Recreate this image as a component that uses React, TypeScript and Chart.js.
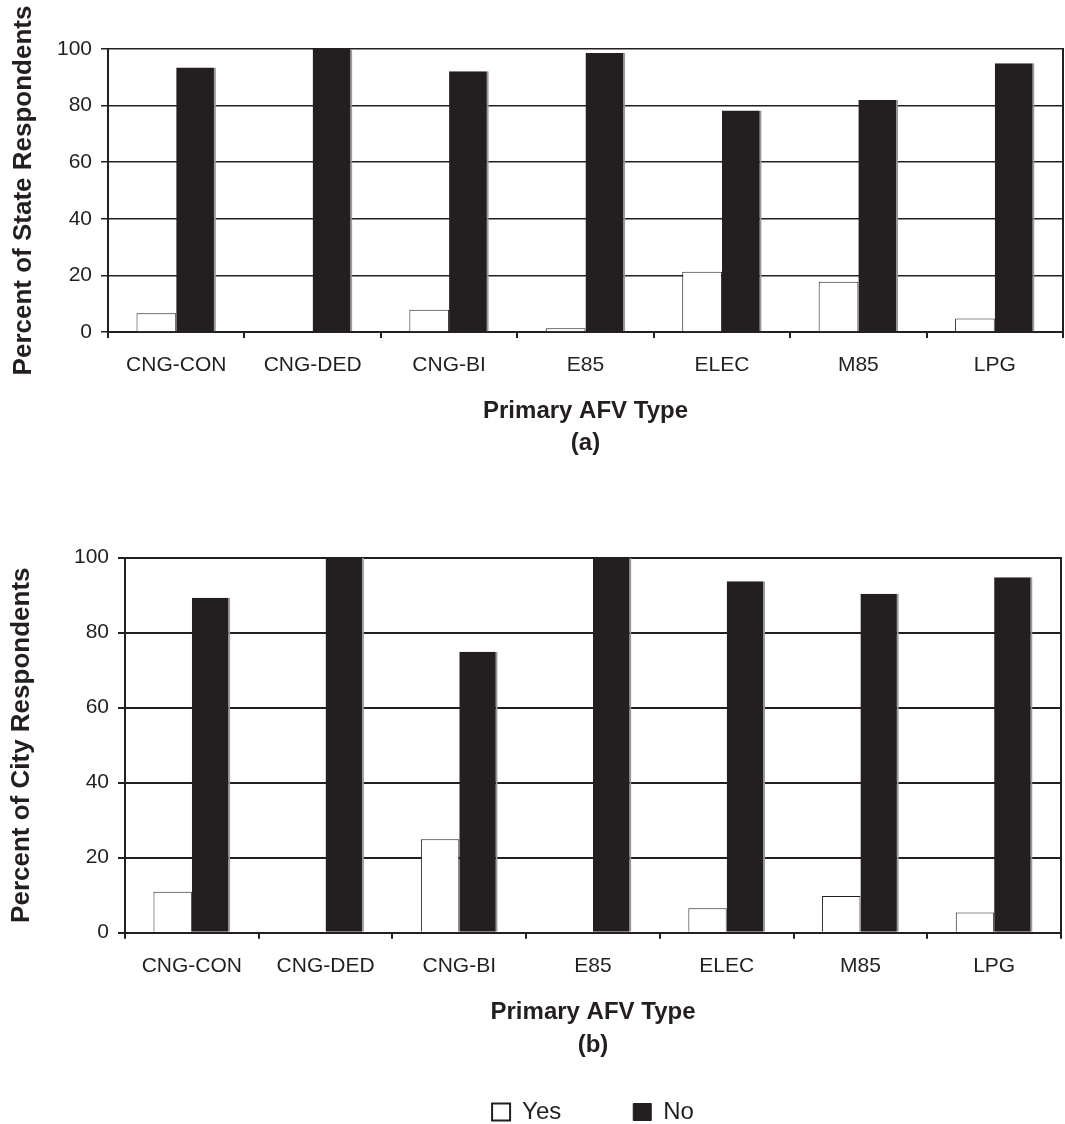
import React, { useEffect, useRef } from 'react';
import { Chart, registerables } from 'chart.js';

Chart.register(...registerables);

const categories = ['CNG-CON', 'CNG-DED', 'CNG-BI', 'E85', 'ELEC', 'M85', 'LPG'];
const seriesLabels = ['Yes', 'No'];
const stateYes = [6.6, 0, 7.9, 1.3, 21.3, 17.8, 4.8];
const stateNo = [93.5, 100, 92.1, 98.6, 78.3, 82.0, 95.0];
const cityYes = [10.9, 0, 24.9, 0, 6.5, 9.8, 5.4];
const cityNo = [89.3, 100, 74.9, 100, 93.7, 90.4, 94.8];
const xTitle = 'Primary AFV Type';

const INK = '#231f20';
const FONT = "'Liberation Sans', Arial, Helvetica, sans-serif";

type P = {
  yes: number[];
  no: number[];
  yTitle: string;
  sub: string;
  catPct: number;
  gridWidth: number;
  padTop: number;
  padRight: number;
  yWidth: number;
  xHeight: number;
  yTitlePad: number;
  xTitlePadBottom: number;
  legend: boolean;
};

function buildConfig(p: P): any {
  return {
    type: 'bar',
    data: {
      labels: categories,
      datasets: [
        {
          label: seriesLabels[0],
          data: p.yes,
          backgroundColor: '#ffffff',
          borderColor: INK,
          borderWidth: 1,
          categoryPercentage: p.catPct,
          barPercentage: 1,
        },
        {
          label: seriesLabels[1],
          data: p.no,
          backgroundColor: INK,
          borderColor: '#9b9b9b',
          borderWidth: { top: 0, left: 0, bottom: 0, right: 2 },
          categoryPercentage: p.catPct,
          barPercentage: 1,
        },
      ],
    },
    options: {
      responsive: false,
      animation: false,
      devicePixelRatio: 1,
      events: [],
      layout: { padding: { top: p.padTop, right: p.padRight, left: 0, bottom: 0 } },
      plugins: {
        tooltip: { enabled: false },
        title: { display: false },
        legend: p.legend
          ? {
              display: true,
              position: 'bottom',
              fullSize: false,
              align: 'center',
              labels: {
                boxWidth: 18,
                boxHeight: 17,
                padding: 72,
                color: INK,
                font: { size: 24, family: FONT },
                generateLabels: () =>
                  seriesLabels.map((t, i) => ({
                    text: t,
                    fillStyle: i === 0 ? '#ffffff' : INK,
                    strokeStyle: INK,
                    lineWidth: i === 0 ? 2 : 1,
                    hidden: false,
                    datasetIndex: i,
                    fontColor: INK,
                  })),
              },
            }
          : { display: false },
      },
      scales: {
        x: {
          grid: {
            offset: true,
            drawOnChartArea: false,
            drawTicks: true,
            tickLength: 6,
            color: INK,
            lineWidth: 2,
          },
          border: { display: true, color: INK, width: 2 },
          ticks: {
            font: { size: 21, family: FONT },
            color: INK,
            padding: 15,
            maxRotation: 0,
            autoSkip: false,
          },
          title: {
            display: true,
            text: [xTitle, p.sub],
            font: { size: 24, weight: 'bold', lineHeight: 1.35, family: FONT },
            color: INK,
            padding: { top: 4, bottom: p.xTitlePadBottom },
          },
          afterFit: (s: any) => {
            s.height = p.xHeight;
          },
        },
        y: {
          min: 0,
          max: 100,
          ticks: {
            stepSize: 20,
            font: { size: 21, family: FONT },
            color: INK,
            padding: 9,
          },
          grid: { color: INK, lineWidth: p.gridWidth, tickLength: 7, drawTicks: true },
          border: { display: true, color: INK, width: 2 },
          title: {
            display: true,
            text: p.yTitle,
            font: { size: 26, weight: 'bold', family: FONT },
            color: INK,
            padding: { top: p.yTitlePad, bottom: 4 },
          },
          afterFit: (s: any) => {
            s.width = p.yWidth;
          },
        },
        yr: {
          position: 'right',
          min: 0,
          max: 100,
          ticks: { display: false },
          grid: { display: false, drawTicks: false },
          border: { display: true, color: INK, width: 2 },
          afterFit: (s: any) => {
            s.width = 0;
          },
        },
      },
    },
  };
}

function BarPanel(props: { config: any; top: number; height: number }) {
  const ref = useRef<HTMLCanvasElement | null>(null);
  useEffect(() => {
    if (!ref.current) return;
    const chart = new Chart(ref.current, props.config);
    return () => chart.destroy();
  }, []);
  return (
    <canvas
      ref={ref}
      width={1065}
      height={props.height}
      style={{ position: 'absolute', left: 0, top: props.top, width: 1065, height: props.height, display: 'block' }}
    />
  );
}

const configA = buildConfig({
  yes: stateYes,
  no: stateNo,
  yTitle: 'Percent of State Respondents',
  sub: '(a)',
  catPct: 0.582,
  gridWidth: 1.5,
  padTop: 49,
  padRight: 2,
  yWidth: 108,
  xHeight: 132,
  yTitlePad: 8.6,
  xTitlePadBottom: 4,
  legend: false,
});

const configB = buildConfig({
  yes: cityYes,
  no: cityNo,
  yTitle: 'Percent of City Respondents',
  sub: '(b)',
  catPct: 0.574,
  gridWidth: 2,
  padTop: 93.7,
  padRight: 4,
  yWidth: 125,
  xHeight: 95.3,
  yTitlePad: 6.6,
  xTitlePadBottom: -33.4,
  legend: true,
});

export default function App() {
  useEffect(() => {
    Chart.defaults.font.family = FONT;
  }, []);
  return (
    <div
      style={{
        position: 'absolute',
        left: 0,
        top: 0,
        width: 1065,
        height: 1124,
        overflow: 'hidden',
        background: '#ffffff',
      }}
    >
      <BarPanel config={configA} top={0} height={464} />
      <BarPanel config={configB} top={464} height={670} />
    </div>
  );
}
